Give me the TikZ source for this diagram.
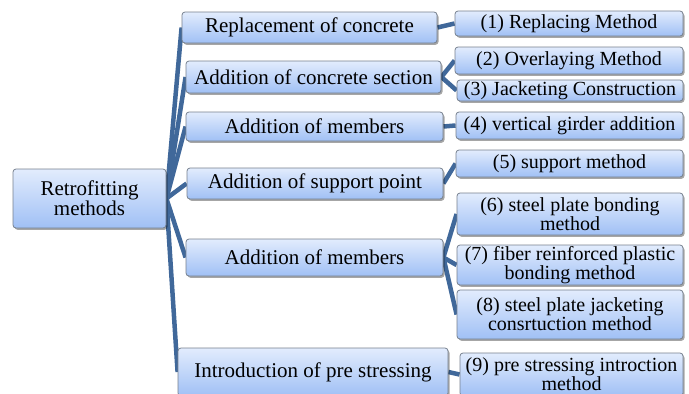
\documentclass[tikz,border=0pt]{standalone}
\usepackage{fontspec}
\setmainfont{Liberation Serif}
\usetikzlibrary{shadows,backgrounds}
\definecolor{linkblue}{RGB}{64,104,154}
\definecolor{boxtop}{RGB}{226,236,253}
\definecolor{boxbot}{RGB}{160,192,245}
\definecolor{boxline}{RGB}{118,128,142}
\tikzset{
  box/.style={draw=boxline, line width=0.8pt, rounded corners=3pt,
    top color=boxtop, bottom color=boxbot, inner sep=0pt, align=center,
    drop shadow={shadow xshift=1.5pt, shadow yshift=-1.8pt, opacity=0.35, fill=black}},
  lone/.style={box, font=\fontsize{21}{20}\selectfont},
  ltwo/.style={box, font=\fontsize{20}{19}\selectfont},
  link/.style={draw=linkblue, line width=4.5pt, line cap=butt},
}
\begin{document}
\begin{tikzpicture}[x=1pt,y=-1pt]
\useasboundingbox (0,0) rectangle (689,394);
\clip (0,0) rectangle (689,394);
\node[lone, minimum width=153pt, minimum height=59pt] (root) at (89.5,198.5) {Retrofitting\\methods};
\node[lone, minimum width=255pt, minimum height=31pt] (b1) at (309.5,27.5) {Replacement of concrete};
\node[lone, minimum width=255pt, minimum height=32pt] (b2) at (313.5,77) {Addition of concrete section};
\node[lone, minimum width=257pt, minimum height=29pt] (b3) at (314.5,126.5) {Addition of members};
\node[lone, minimum width=256pt, minimum height=31pt] (b4) at (315,183.5) {Addition of support point};
\node[lone, minimum width=257pt, minimum height=37pt] (b5) at (314.5,257.5) {Addition of members};
\node[lone, minimum width=270pt, minimum height=48pt] (b6) at (313,372) {Introduction of pre stressing};
\node[ltwo, minimum width=228pt, minimum height=25pt] (c1) at (569,23.5) {(1) Replacing Method};
\node[ltwo, minimum width=228pt, minimum height=27pt] (c2) at (569,60.5) {(2) Overlaying Method};
\node[ltwo, minimum width=226pt, minimum height=21pt] (c3) at (570,90.5) {(3) Jacketing Construction};
\node[ltwo, minimum width=227pt, minimum height=27pt] (c4) at (569.5,125.5) {(4) vertical girder addition};
\node[ltwo, minimum width=227pt, minimum height=27pt] (c5) at (569.5,163.5) {(5) support method};
\node[ltwo, minimum width=226pt, minimum height=42pt] (c6) at (570,214) {(6) steel plate bonding\\method};
\node[ltwo, minimum width=226pt, minimum height=40pt] (c7) at (570,265) {(7) fiber reinforced plastic\\bonding method};
\node[ltwo, minimum width=226pt, minimum height=49pt] (c8) at (570,314.5) {(8) steel plate jacketing\\consrtuction method};
\node[ltwo, minimum width=223pt, minimum height=43pt] (c9) at (571.5,374.5) {(9) pre stressing introction\\method};
\begin{scope}[on background layer]
\foreach \b in {b1,b2,b3,b4,b5,b6}
  \draw[link] (root.east) -- (\b.west);
\draw[link] (b1.east) -- (c1.west);
\draw[link] (b2.east) -- (c2.west);
\draw[link] (b2.east) -- (c3.west);
\draw[link] (b3.east) -- (c4.west);
\draw[link] (b4.east) -- (c5.west);
\draw[link] (b5.east) -- (c6.west);
\draw[link] (b5.east) -- (c7.west);
\draw[link] (b5.east) -- (c8.west);
\draw[link] (b6.east) -- (c9.west);
\end{scope}
\end{tikzpicture}
\end{document}
